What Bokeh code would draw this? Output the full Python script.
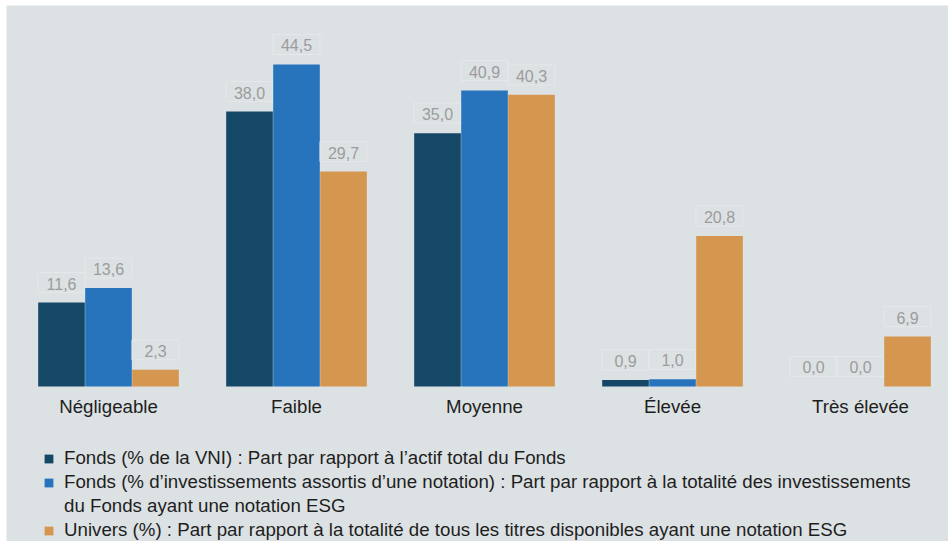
from bokeh.plotting import figure
from bokeh.models import ColumnDataSource, LabelSet, Legend, LegendItem, Range1d, FixedTicker
from bokeh.core.properties import value
from bokeh.transform import dodge
from bokeh.embed import file_html
from bokeh.resources import INLINE

categories = ["Négligeable", "Faible", "Moyenne", "Élevée", "Très élevée"]
fonds_vni = [11.6, 38.0, 35.0, 0.9, 0.0]
fonds_notes = [13.6, 44.5, 40.9, 1.0, 0.0]
univers = [2.3, 29.7, 40.3, 20.8, 6.9]
legend_lines = [
    "Fonds (% de la VNI) : Part par rapport à l\u2019actif total du Fonds",
    "Fonds (% d\u2019investissements assortis d\u2019une notation) : Part par rapport à la totalité des investissements",
    "du Fonds ayant une notation ESG",
    "Univers (%) : Part par rapport à la totalité de tous les titres disponibles ayant une notation ESG",
]
colors = ["#144866", "#2874bc", "#d5964f"]
BG = "#dce1e4"
FONT = "Liberation Sans"

x = list(range(len(categories)))

p = figure(width=948, height=541, output_backend="svg", toolbar_location=None,
           x_range=Range1d(-0.5426, 4.468), y_range=Range1d(-21.42, 52.65),
           min_border_left=6, min_border_right=0, min_border_top=5, min_border_bottom=0)
p.background_fill_color = BG
p.border_fill_color = "white"
p.outline_line_color = None
p.grid.visible = False
p.yaxis.visible = False

offsets = [-0.25, 0.0, 0.25]
renderers = []
for vals, off, col in zip([fonds_vni, fonds_notes, univers], offsets, colors):
    src = ColumnDataSource(dict(x=[v + off for v in x], top=vals,
                                lab=[f"{v:.1f}".replace(".", ",") for v in vals]))
    r = p.vbar(x="x", top="top", width=0.248, bottom=0, source=src,
               fill_color=col, line_color=None)
    renderers.append(r)
    p.rect(x="x", y=dodge("top", 2.76, range=p.y_range), width=0.25, height=20,
           height_units="screen", source=src, fill_color=None,
           line_color="#e5e8ea", line_width=1)
    labels = LabelSet(x="x", y="top", text="lab", source=src, y_offset=19,
                      text_align="center", text_baseline="middle",
                      text_font=value(FONT), text_font_size="16px", text_color="#9c9c9c")
    p.add_layout(labels)

xa = p.xaxis[0]
xa.fixed_location = 0
xa.ticker = FixedTicker(ticks=x)
xa.major_label_overrides = {i: c for i, c in enumerate(categories)}
xa.axis_line_color = None
xa.major_tick_line_color = None
xa.minor_tick_line_color = None
xa.major_tick_out = 0
xa.major_label_text_font = FONT
xa.major_label_text_font_size = "18.7px"
xa.major_label_text_color = "#1e1e1e"
xa.major_label_standoff = 10

# invisible renderer used for the legend's continuation line
blank = p.vbar(x=[0], top=[0], width=0.1, fill_alpha=0, line_alpha=0)
leg_renderers = [renderers[0], renderers[1], blank, renderers[2]]
legend = Legend(items=[LegendItem(label=n, renderers=[r]) for n, r in zip(legend_lines, leg_renderers)],
                location=(37, 0), orientation="vertical",
                label_text_font=FONT, label_text_font_size="18.7px", label_text_color="#1e1e1e",
                glyph_width=11, glyph_height=11, label_height=22, label_standoff=10, spacing=2,
                margin=0, padding=0, border_line_color=None, background_fill_alpha=0)
p.add_layout(legend, "center")

open("out.html", "w").write(file_html(p, INLINE))
